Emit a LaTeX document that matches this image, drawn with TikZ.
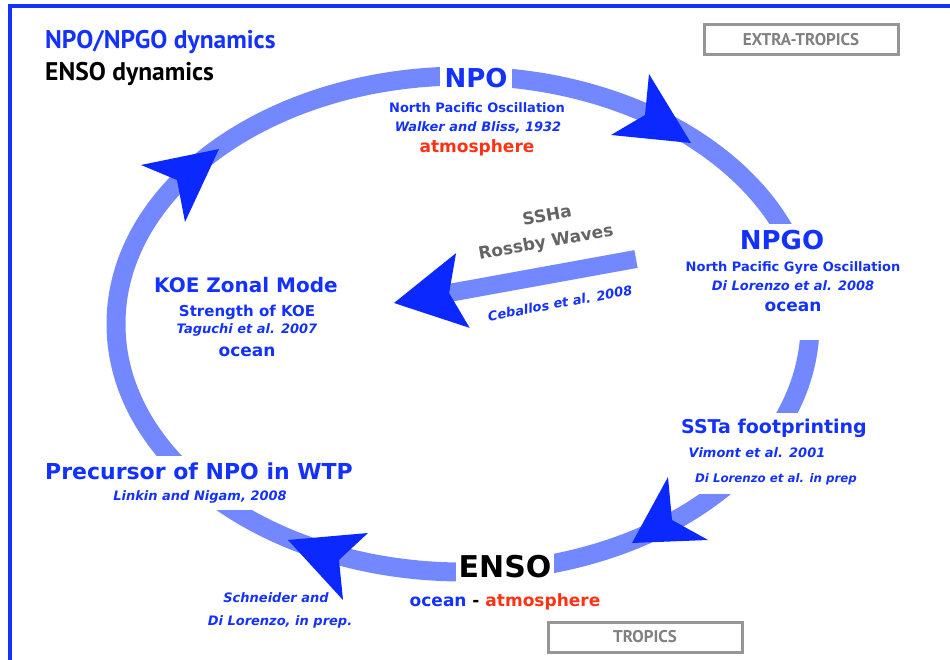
\documentclass[tikz,border=0pt]{standalone}
\usepackage{fontspec}
\setmainfont{DejaVu Sans}
\newfontfamily\headfont{PT Sans}
\usetikzlibrary{arrows.meta}

\definecolor{textblue}{RGB}{20,50,255}
\definecolor{ringblue}{RGB}{115,136,255}
\definecolor{headblue}{RGB}{10,40,255}
\definecolor{atmred}{RGB}{255,50,20}
\definecolor{zonegrey}{RGB}{150,150,150}
\definecolor{wavegrey}{RGB}{100,100,100}

\begin{document}
\begin{tikzpicture}[
    x=1pt, y=-1pt,
    ring/.style={draw=ringblue, line width=19pt},
    head/.style={fill=headblue},
    gapfill/.style={fill=white, inner xsep=4pt, inner ysep=6pt},
    bigname/.style={font=\bfseries\fontsize{26}{30}\selectfont, text=textblue},
    midname/.style={font=\bfseries\fontsize{20}{24}\selectfont, text=textblue},
    sublab/.style={font=\bfseries\fontsize{13}{15}\selectfont, text=textblue},
    citelab/.style={font=\bfseries\itshape\fontsize{13}{15}\selectfont, text=textblue},
    medium/.style={font=\bfseries\fontsize{17}{20}\selectfont},
    zonebox/.style={draw=zonegrey, line width=3pt, minimum width=194pt,
      minimum height=30pt, text=zonegrey!85!black,
      font=\headfont\bfseries\fontsize{17}{20}\selectfont},
  ]
  \useasboundingbox (0,0) rectangle (950,660);

  %% ---- frame and legend -------------------------------------------------
  \draw[textblue, line width=4.5pt] (10,660) -- (10,6) -- (950,6);
  \node[anchor=west, inner sep=0pt, text=textblue,
    font=\headfont\bfseries\fontsize{25.5}{30}\selectfont] (npgodyn) at (45,42) {NPO/NPGO dynamics};
  \node[anchor=west, inner sep=0pt,
    font=\headfont\bfseries\fontsize{25.5}{30}\selectfont] (ensodyn) at (45,74) {ENSO dynamics};
  \node[zonebox] (extra) at (801,40) {EXTRA-TROPICS};
  \node[zonebox] (tropics) at (645,637) {TROPICS};

  %% ---- the loop ---------------------------------------------------------
  \draw[ring] (463,324) ellipse [x radius=347pt, y radius=248pt];

  %% ---- NPO ----------------------------------------------------------------
  \node[bigname, gapfill, inner xsep=5pt] (npo) at (476,78) {NPO};
  \node[sublab] (npofull) at (477,108) {North Pacific Oscillation};
  \node[citelab] (npocite) at (478,127) {Walker and Bliss, 1932};
  \node[medium, text=atmred] (npoatm) at (477,148) {atmosphere};

  %% ---- NPGO ---------------------------------------------------------------
  \node[medium, text=textblue, gapfill, anchor=base, text depth=22pt] (npgoocean) at (793,312) {ocean};
  \node[bigname, gapfill] (npgo) at (782,240) {NPGO};
  \node[sublab, gapfill] (npgofull) at (793,268) {North Pacific Gyre Oscillation};
  \node[citelab, gapfill] (npgocite) at (793,286) {Di Lorenzo et al. 2008};

  %% ---- SSTa footprinting -------------------------------------------------
  \node[midname, gapfill, font=\bfseries\fontsize{19}{22}\selectfont] (ssta) at (774,428) {SSTa footprinting};
  \node[citelab, gapfill, inner ysep=9pt] (sstaprep) at (776,479) {\fontsize{11.8}{14}\selectfont Di Lorenzo et al. in prep};
  \node[citelab, gapfill, inner ysep=8pt] (sstacite) at (757,453) {Vimont et al. 2001};

  %% ---- ENSO ---------------------------------------------------------------
  \node[gapfill, font=\bfseries\fontsize{30}{34}\selectfont, inner xsep=3pt] (enso) at (505,567) {ENSO};
  \node[medium] (ensomode) at (505,602)
    {\textcolor{textblue}{ocean} - \textcolor{atmred}{atmosphere}};
  \node[citelab] (schneider) at (276,598) {Schneider and};
  \node[citelab] (schneider2) at (280,622) {Di Lorenzo, in prep.};

  %% ---- precursor in the WTP ----------------------------------------------
  \node[midname, gapfill, font=\bfseries\fontsize{22}{26}\selectfont] (precursor) at (199,471) {Precursor of NPO in WTP};
  \node[citelab, gapfill, inner ysep=7pt] (precite) at (200,497) {Linkin and Nigam, 2008};

  %% ---- KOE ----------------------------------------------------------------
  \node[midname] (koe) at (246,285) {KOE Zonal Mode};
  \node[sublab, font=\bfseries\fontsize{15}{18}\selectfont] (koefull) at (247,312) {Strength of KOE};
  \node[citelab] (koecite) at (247,330) {Taguchi et al. 2007};
  \node[medium, text=textblue] (koeocean) at (247,352) {ocean};

  %% ---- Rossby waves back to the KOE --------------------------------------
  \coordinate (rwstart) at (636,259);
  \coordinate (rwtip) at (394,303);
  \draw[draw=ringblue, line width=18pt,
    -{Stealth[length=70pt, width=76pt, inset=14pt, color=headblue, line width=0pt]}]
    (rwstart) -- (rwtip);
  \node[medium, text=wavegrey, rotate=10, inner sep=0pt] (ssha) at (547,215) {SSHa};
  \node[medium, text=wavegrey, rotate=10, inner sep=0pt] (rossby) at (546,243) {Rossby Waves};
  \node[citelab, rotate=10.5, inner sep=0pt] (ceballos) at (560,303) {Ceballos et al. 2008};

  %% ---- heads on the loop --------------------------------------------------
  \fill[head] (691,143) -- (649,74) -- (645,115) -- (611,135) -- cycle;
  \fill[head] (632,543) -- (668,477) -- (672,520) -- (708,540) -- cycle;
  \fill[head] (288,540) -- (368,533) -- (339,560) -- (343,600) -- cycle;
  \fill[head] (219,149) -- (141,165) -- (177,180) -- (185,222) -- cycle;
\end{tikzpicture}
\end{document}
